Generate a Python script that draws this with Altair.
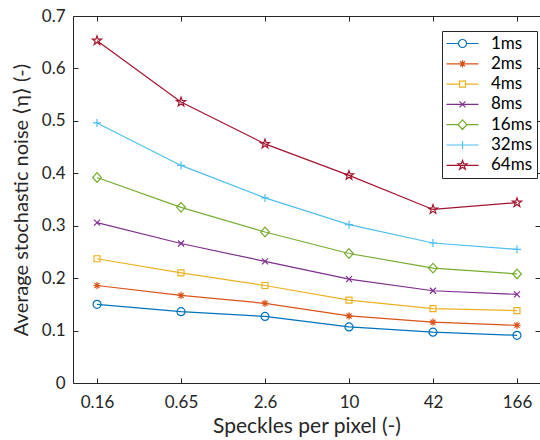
import math
import altair as alt
import pandas as pd

# ---------------- data ----------------
x_labels = ["0.16", "0.65", "2.6", "10", "42", "166"]
series = ["1ms", "2ms", "4ms", "8ms", "16ms", "32ms", "64ms"]

noise_1ms = [0.150, 0.136, 0.127, 0.107, 0.097, 0.091]
noise_2ms = [0.186, 0.167, 0.152, 0.128, 0.116, 0.110]
noise_4ms = [0.237, 0.210, 0.186, 0.158, 0.142, 0.138]
noise_8ms = [0.306, 0.266, 0.232, 0.198, 0.176, 0.169]
noise_16ms = [0.392, 0.335, 0.288, 0.247, 0.219, 0.208]
noise_32ms = [0.496, 0.415, 0.353, 0.302, 0.267, 0.255]
noise_64ms = [0.653, 0.536, 0.456, 0.396, 0.331, 0.344]

y_ticks = [0, 0.1, 0.2, 0.3, 0.4, 0.5, 0.6, 0.7]

colors = ["#0072BD", "#D95319", "#EDB120", "#7E2F8E", "#77AC30", "#4DBEEE", "#A2142F"]

all_values = [noise_1ms, noise_2ms, noise_4ms, noise_8ms, noise_16ms, noise_32ms, noise_64ms]
rows = []
for s, vals in zip(series, all_values):
    for i, v in enumerate(vals):
        rows.append({"idx": i, "spp": x_labels[i], "series": s, "noise": v})
df = pd.DataFrame(rows)


# ---------------- marker styles (MATLAB-like) ----------------
def star_path(r_out, r_in):
    pts = []
    for k in range(10):
        ang = math.radians(-90 + 36 * k)
        r = r_out if k % 2 == 0 else r_in
        pts.append(f"{r * math.cos(ang):.3f},{r * math.sin(ang):.3f}")
    return "M" + "L".join(pts) + "Z"


markers = [
    "M1,0A1,1,0,1,1,-1,0A1,1,0,1,1,1,0Z",
    "M0,-0.9L0,0.9M-0.9,0L0.9,0M-0.64,-0.64L0.64,0.64M-0.64,0.64L0.64,-0.64",
    "M-0.75,-0.75L0.75,-0.75L0.75,0.75L-0.75,0.75Z",
    "M-0.75,-0.75L0.75,0.75M-0.75,0.75L0.75,-0.75",
    "M0,-1.2L1.1,0L0,1.2L-1.1,0Z",
    "M-1,0L1,0M0,-1L0,1",
    star_path(1.2, 0.48),
]
# half-width of each marker, where the legend line stops
marker_gap = [1.0, 0.0, 0.75, 0.0, 1.1, 0.0, 0.0]
legend_paths = [
    (f"M-4,0L{-g},0M{g},0L4,0" if g > 0 else "M-4,0L4,0") + m
    for m, g in zip(markers, marker_gap)
]

shape_expr = ""
for s, p in zip(series[:-1], legend_paths[:-1]):
    shape_expr += f"datum.value === '{s}' ? '{p}' : "
shape_expr += f"'{legend_paths[-1]}'"

W, H = 467, 367
AX = "#262626"
FONT = "Lato"

x_scale = alt.Scale(domain=[-0.286, 5.274], nice=False, zero=False)
y_scale = alt.Scale(domain=[0, 0.7], nice=False, zero=False)
color_scale = alt.Scale(domain=series, range=colors)

label_expr = "[" + ",".join(f"'{l}'" for l in x_labels) + "][datum.value]"
x_vals = list(range(len(x_labels)))

base = alt.Chart(df)

legend = alt.Legend(
    title=None,
    orient="none",
    legendX=369,
    legendY=15,
    strokeColor=AX,
    fillColor="white",
    padding=4,
    labelFont=FONT,
    labelFontSize=17,
    labelColor="black",
    labelAlign="left",
    symbolSize=64,
    symbolStrokeWidth=1.2,
    symbolOffset=8,
    labelOffset=20,
    rowPadding=2.3,
    symbolFillColor="transparent",
    symbolOpacity=1,
    symbolType={"expr": shape_expr},
)

lines = base.mark_line(strokeWidth=1.2).encode(
    x=alt.X(
        "idx:Q",
        scale=x_scale,
        axis=alt.Axis(
            orient="bottom", values=x_vals, labelExpr=label_expr, ticks=False, tickSize=0,
            domain=True, grid=False, title="Speckles per pixel (-)", labelPadding=11,
            titlePadding=5, titleFontSize=21,
        ),
    ),
    y=alt.Y(
        "noise:Q",
        scale=y_scale,
        axis=alt.Axis(
            orient="left", values=y_ticks, format=".1~f", ticks=False, tickSize=0,
            domain=True, grid=False, title="Average stochastic noise ⟨η⟩ (-)",
            labelPadding=8, titlePadding=10, titleFontSize=20,
        ),
    ),
    color=alt.Color("series:N", scale=color_scale, legend=legend),
)

# one marker layer per series (each with its own MATLAB-style marker)
marker_layers = []
for s, c, m in zip(series, colors, markers):
    marker_layers.append(
        base.transform_filter(alt.datum.series == s)
        .mark_point(filled=False, size=64, strokeWidth=1.2, opacity=1, shape=m, color=c)
        .encode(
            x=alt.X("idx:Q", scale=x_scale, axis=None),
            y=alt.Y("noise:Q", scale=y_scale, axis=None),
        )
    )

# invisible layers carrying the inward MATLAB box ticks
ticks_a = base.mark_point(opacity=0).encode(
    x=alt.X(
        "idx:Q",
        scale=x_scale,
        axis=alt.Axis(orient="top", offset=-H, values=x_vals, labels=False, domain=False,
                      ticks=True, tickSize=5, grid=False, title=None),
    ),
    y=alt.Y(
        "noise:Q",
        scale=y_scale,
        axis=alt.Axis(orient="right", offset=-W, values=y_ticks, labels=False, domain=False,
                      ticks=True, tickSize=5, grid=False, title=None),
    ),
)

ticks_b = base.mark_point(opacity=0).encode(
    x=alt.X(
        "idx:Q",
        scale=x_scale,
        axis=alt.Axis(orient="bottom", offset=-H, values=x_vals, labels=False, domain=True,
                      ticks=True, tickSize=5, grid=False, title=None),
    ),
    y=alt.Y(
        "noise:Q",
        scale=y_scale,
        axis=alt.Axis(orient="left", offset=-W, values=y_ticks, labels=False, domain=False,
                      ticks=True, tickSize=5, grid=False, title=None),
    ),
)

chart = (
    alt.layer(lines, *marker_layers, ticks_a, ticks_b)
    .resolve_axis(x="independent", y="independent")
    .properties(
        width=W,
        height=H,
        autosize=alt.AutoSizeParams(type="none"),
        padding={"left": 73, "top": 16, "right": 0, "bottom": 57},
        background="white",
    )
    .configure_view(stroke=None)
    .configure_axis(
        labelFont=FONT,
        labelFontSize=17,
        labelColor=AX,
        titleFont=FONT,
        titleFontWeight="normal",
        titleColor=AX,
        domainColor=AX,
        tickColor=AX,
        domainWidth=1,
        tickWidth=1,
    )
)

chart.save("out.html", embed_options={"renderer": "svg", "actions": False})
